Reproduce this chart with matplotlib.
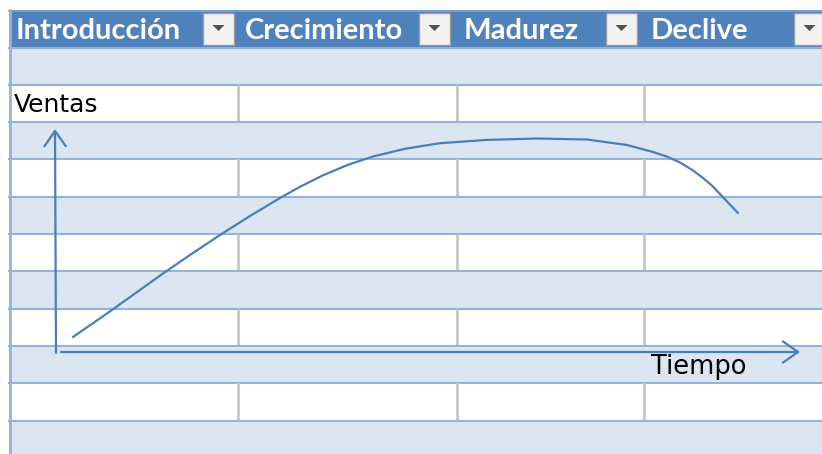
import matplotlib.pyplot as plt
from matplotlib.patches import Rectangle, Polygon

# header labels of the table and where each column starts (px)
etapas = ['Introducción', 'Crecimiento', 'Madurez', 'Declive']
col_x = [9, 238, 457, 644]

# product life cycle curve, in chart units (origin = axes corner)
tiempo = [16, 50, 78, 106, 133, 163, 193, 223, 243, 266, 291, 316, 348, 383,
          430, 480, 530, 570, 596, 610, 623, 635, 646, 655, 663, 672, 681]
ventas = [15, 38.5, 58.5, 78.5, 97, 117, 136, 154, 165.2, 176.7, 187.2, 195.5,
          203.2, 208.8, 212.1, 213.5, 212.5, 207, 200, 195.4, 189.5, 182.3,
          174, 166.4, 158, 148.5, 139]

W, H = 822, 454
fig = plt.figure(figsize=(W / 100, H / 100), dpi=100)
ax = fig.add_axes([0, 0, 1, 1])
ax.set_xlim(0, W)
ax.set_ylim(H, 0)
ax.axis('off')

blue = '#4F81BD'
band = '#DCE6F1'
band_line = '#95B3D7'
grid_grey = '#C6C6C6'

# header
ax.add_patch(Rectangle((9, 10), W, 37.5, color=blue, lw=0))
ax.plot([9, W], [10.5, 10.5], color='#7FA3D0', lw=1.2)

# rows
row_h = 37.3
top = 47.5
for i in range(11):
    y0 = top + i * row_h
    if i % 2 == 0:
        ax.add_patch(Rectangle((9, y0), W, row_h, color=band, lw=0))
        ax.plot([9, W], [y0, y0], color=band_line, lw=1.5)
        ax.plot([9, W], [y0 + row_h, y0 + row_h], color=band_line, lw=1.5)
    else:
        for cx in col_x[1:]:
            ax.plot([cx, cx], [y0 + 1, y0 + row_h - 1], color=grid_grey, lw=2)

# left border of the table
ax.plot([9.5, 9.5], [10, H], color=band_line, lw=2)

# header text and dropdown buttons
btn_x = [203, 419, 606, 794]
for name, cx, bx in zip(etapas, col_x, btn_x):
    ax.text(cx + 7, 31, name, color='white', fontsize=21, fontweight='bold',
            family='Lato', va='center', ha='left')
    ax.add_patch(Rectangle((bx, 13), 31, 32, facecolor='#F2F2F2',
                           edgecolor='#9C9C9C', lw=1))
    cx_b = bx + 15.5
    ax.add_patch(Polygon([[cx_b - 6, 25], [cx_b + 6, 25], [cx_b, 31]],
                         closed=True, color='#505050', lw=0))

# axis labels
ax.text(14, 105, 'Ventas', fontsize=18, family='DejaVu Sans', va='center',
        ha='left', color='black')
ax.text(651, 367, 'Tiempo', fontsize=18.5, family='DejaVu Sans', va='center',
        ha='left', color='black')

line_c = '#4A7EBB'
arrow = dict(arrowstyle='->,head_length=0.5,head_width=0.35', color=line_c,
             lw=1.6, mutation_scale=22, shrinkA=0, shrinkB=0)
# drawn axes with open arrow heads
ax.annotate('', xy=(55, 129), xytext=(56, 353), arrowprops=arrow)
ax.annotate('', xy=(800, 352), xytext=(61, 352), arrowprops=arrow)

# chart axes for the curve
ox, oy = 57, 352
ax2 = fig.add_axes([ox / W, (H - oy) / H, (800 - ox) / W, (oy - 128) / H])
ax2.set_xlim(0, 800 - ox)
ax2.set_ylim(0, oy - 128)
ax2.axis('off')
ax2.patch.set_alpha(0)
ax2.plot(tiempo, ventas, color=line_c, lw=1.6, solid_capstyle='round',
         solid_joinstyle='round')

fig.savefig('out.png', dpi=100)
